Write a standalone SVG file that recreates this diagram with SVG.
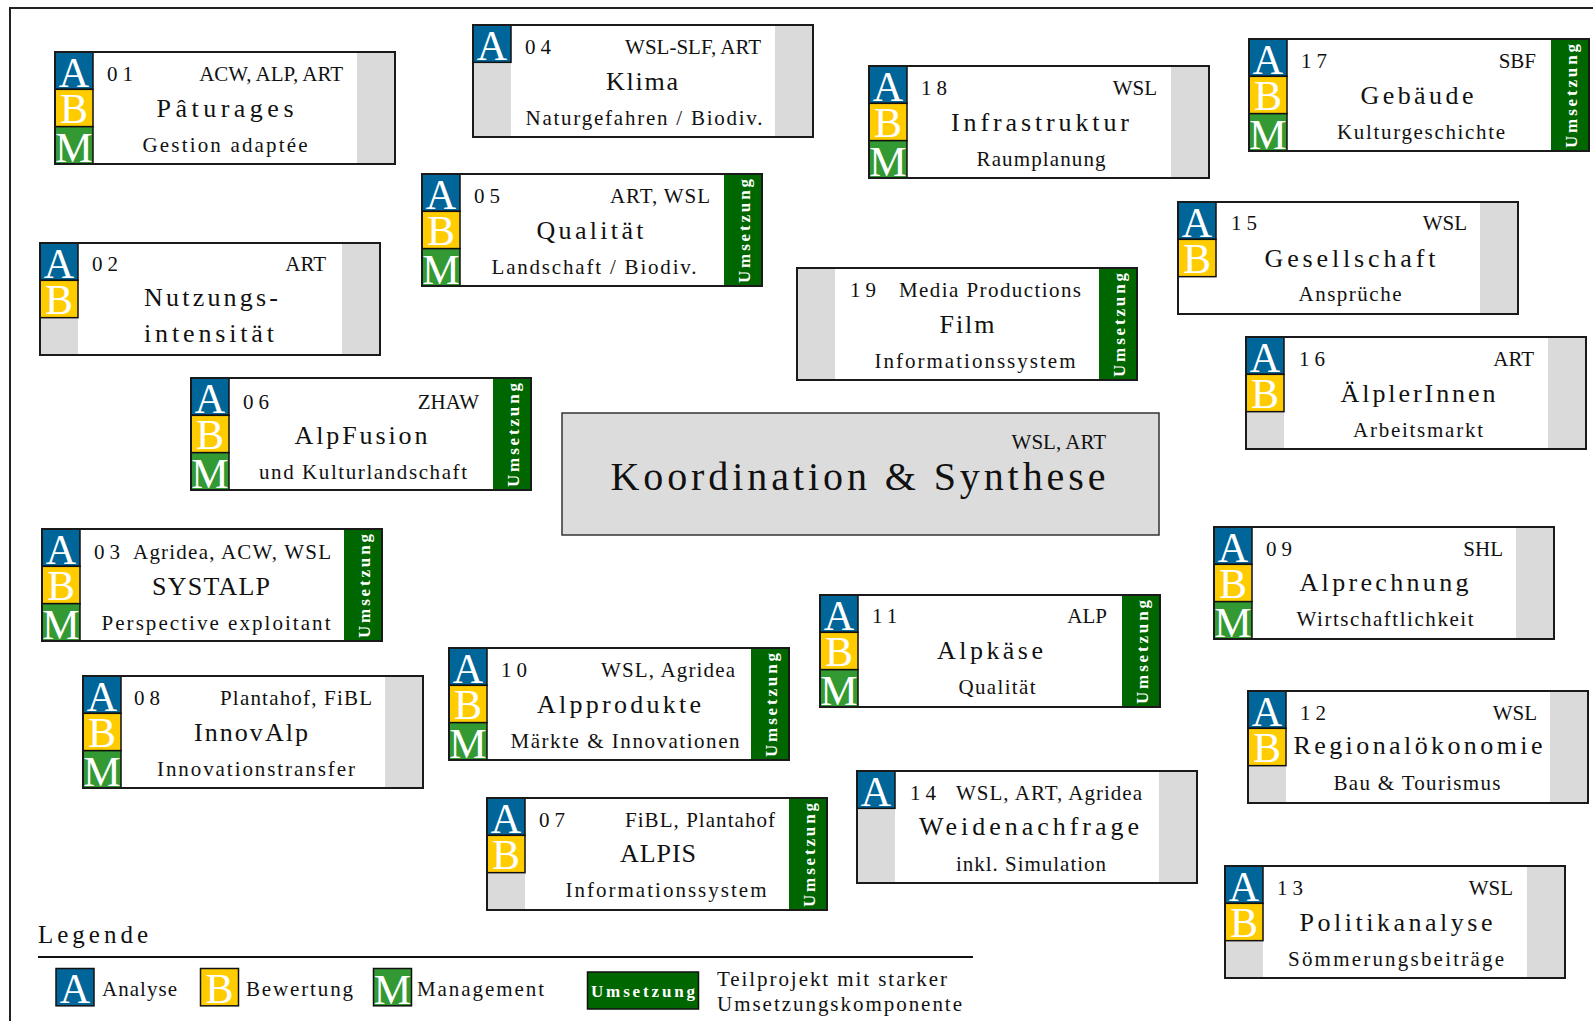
<svg xmlns="http://www.w3.org/2000/svg" xmlns:xlink="http://www.w3.org/1999/xlink" width="1593" height="1021" viewBox="0 0 1593 1021">
<style>
text{font-family:"Liberation Serif","Times New Roman",serif;fill:#111}
.wb{fill:#fff}
.ol{fill:none;stroke:#1a1a1a;stroke-width:2}
.lt{font-size:42px;fill:#fff;text-anchor:middle}
.num{font-size:21px;letter-spacing:5px}
.org{font-size:21px;text-anchor:end}
.lft{font-size:21px}
.ttl{font-size:26px;text-anchor:middle}
.sub{font-size:21px;text-anchor:middle}
.ut{font-size:17px;font-weight:bold;fill:#fff;text-anchor:middle}
.leg{font-size:21px}
</style>
<defs>
<g id="LA"><rect width="38" height="37.33" fill="#00669a" stroke="#111" stroke-width="1.5"/><text class="lt" x="19" y="34.5">A</text></g>
<g id="LB"><rect width="38" height="37.33" fill="#ffcc00" stroke="#111" stroke-width="1.5"/><text class="lt" x="19" y="34">B</text></g>
<g id="LM"><rect width="38" height="37.33" fill="#339933" stroke="#111" stroke-width="1.5"/><text class="lt" x="19" y="35.5">M</text></g>
<rect id="GR" width="38" height="112" fill="#dadada"/>
<g id="UM"><rect width="38" height="112" fill="#006600"/><text class="ut" transform="translate(19,57) rotate(-90)" y="7" textLength="104" lengthAdjust="spacing">Umsetzung</text></g>
</defs>

<path d="M10,1021 V8 H1593" fill="none" stroke="#222" stroke-width="2"/>

<g id="connectors"></g>

<g id="n01" transform="translate(55,52)">
<rect class="wb" width="340" height="112"/><use xlink:href="#GR" x="302"/>
<use xlink:href="#LA"/><use xlink:href="#LB" y="37.33"/><use xlink:href="#LM" y="74.67"/>
<rect class="ol" width="340" height="112"/>
<text class="num" x="52" y="29">01</text>
<text class="org" x="288" y="29">ACW, ALP, ART</text>
<text class="ttl" x="170" y="65" textLength="137" lengthAdjust="spacing">Pâturages</text>
<text class="sub" x="170" y="100" textLength="165" lengthAdjust="spacing">Gestion adaptée</text>
</g>

<g id="n04" transform="translate(473,25)">
<rect class="wb" width="340" height="112"/><use xlink:href="#GR"/><use xlink:href="#GR" x="302"/>
<use xlink:href="#LA"/>
<rect class="ol" width="340" height="112"/>
<text class="num" x="52" y="29">04</text>
<text class="org" x="288" y="29">WSL-SLF, ART</text>
<text class="ttl" x="169" y="65" textLength="72" lengthAdjust="spacing">Klima</text>
<text class="sub" x="171" y="100" textLength="237" lengthAdjust="spacing">Naturgefahren / Biodiv.</text>
</g>

<g id="n05" transform="translate(422,174)">
<rect class="wb" width="340" height="112"/><use xlink:href="#UM" x="302"/>
<use xlink:href="#LA"/><use xlink:href="#LB" y="37.33"/><use xlink:href="#LM" y="74.67"/>
<rect class="ol" width="340" height="112"/>
<text class="num" x="52" y="29">05</text>
<text class="org" x="288" y="29" textLength="100" lengthAdjust="spacing">ART, WSL</text>
<text class="ttl" x="168" y="65" textLength="107" lengthAdjust="spacing">Qualität</text>
<text class="sub" x="172" y="100" textLength="205" lengthAdjust="spacing">Landschaft / Biodiv.</text>
</g>

<g id="n18" transform="translate(869,66)">
<rect class="wb" width="340" height="112"/><use xlink:href="#GR" x="302"/>
<use xlink:href="#LA"/><use xlink:href="#LB" y="37.33"/><use xlink:href="#LM" y="74.67"/>
<rect class="ol" width="340" height="112"/>
<text class="num" x="52" y="29">18</text>
<text class="org" x="288" y="29">WSL</text>
<text class="ttl" x="171" y="65" textLength="178" lengthAdjust="spacing">Infrastruktur</text>
<text class="sub" x="172" y="100" textLength="129" lengthAdjust="spacing">Raumplanung</text>
</g>

<g id="n17" transform="translate(1249,39)">
<rect class="wb" width="340" height="112"/><use xlink:href="#UM" x="302"/>
<use xlink:href="#LA"/><use xlink:href="#LB" y="37.33"/><use xlink:href="#LM" y="74.67"/>
<rect class="ol" width="340" height="112"/>
<text class="num" x="52" y="29">17</text>
<text class="org" x="287" y="29">SBF</text>
<text class="ttl" x="168" y="65" textLength="113" lengthAdjust="spacing">Gebäude</text>
<text class="sub" x="172" y="100" textLength="168" lengthAdjust="spacing">Kulturgeschichte</text>
</g>

<g id="n02" transform="translate(40,243)">
<rect class="wb" width="340" height="112"/><use xlink:href="#GR"/><use xlink:href="#GR" x="302"/>
<use xlink:href="#LA"/><use xlink:href="#LB" y="37.33"/>
<rect class="ol" width="340" height="112"/>
<text class="num" x="52" y="28">02</text>
<text class="org" x="286" y="28">ART</text>
<text class="ttl" x="171" y="63" textLength="134" lengthAdjust="spacing">Nutzungs-</text>
<text class="ttl" x="169" y="99" textLength="130" lengthAdjust="spacing">intensität</text>
</g>

<g id="n19" transform="translate(797,268)">
<rect class="wb" width="340" height="112"/><use xlink:href="#GR"/><use xlink:href="#UM" x="302"/>
<rect class="ol" width="340" height="112"/>
<text class="num" x="53" y="29">19</text>
<text class="lft" x="102" y="29" textLength="182" lengthAdjust="spacing">Media Productions</text>
<text class="ttl" x="170" y="65" textLength="55" lengthAdjust="spacing">Film</text>
<text class="sub" x="178" y="100" textLength="201" lengthAdjust="spacing">Informationssystem</text>
</g>

<g id="n15" transform="translate(1178,202)">
<rect class="wb" width="340" height="112"/><use xlink:href="#GR" x="302"/>
<use xlink:href="#LA"/><use xlink:href="#LB" y="37.33"/>
<rect class="ol" width="340" height="112"/>
<text class="num" x="53" y="28">15</text>
<text class="org" x="289" y="28">WSL</text>
<text class="ttl" x="172" y="65" textLength="171" lengthAdjust="spacing">Gesellschaft</text>
<text class="sub" x="172" y="99" textLength="103" lengthAdjust="spacing">Ansprüche</text>
</g>

<g id="n16" transform="translate(1246,337)">
<rect class="wb" width="340" height="112"/><use xlink:href="#GR"/><use xlink:href="#GR" x="302"/>
<use xlink:href="#LA"/><use xlink:href="#LB" y="37.33"/>
<rect class="ol" width="340" height="112"/>
<text class="num" x="53" y="29">16</text>
<text class="org" x="288" y="29">ART</text>
<text class="ttl" x="172" y="65" textLength="155" lengthAdjust="spacing">ÄlplerInnen</text>
<text class="sub" x="172" y="100" textLength="130" lengthAdjust="spacing">Arbeitsmarkt</text>
</g>

<g id="n06" transform="translate(191,378)">
<rect class="wb" width="340" height="112"/><use xlink:href="#UM" x="302"/>
<use xlink:href="#LA"/><use xlink:href="#LB" y="37.33"/><use xlink:href="#LM" y="74.67"/>
<rect class="ol" width="340" height="112"/>
<text class="num" x="52" y="31">06</text>
<text class="org" x="288" y="31">ZHAW</text>
<text class="ttl" x="170" y="66" textLength="133" lengthAdjust="spacing">AlpFusion</text>
<text class="sub" x="172" y="101" textLength="208" lengthAdjust="spacing">und Kulturlandschaft</text>
</g>

<rect x="562" y="413" width="597" height="122" fill="#dcdcdc" stroke="#333" stroke-width="1.5"/>
<g id="n00">
<text class="org" x="1106" y="449">WSL, ART</text>
<text x="858" y="490" font-size="40" text-anchor="middle" textLength="495" lengthAdjust="spacing">Koordination &amp; Synthese</text>
</g>

<g id="n03" transform="translate(42,529)">
<rect class="wb" width="340" height="112"/><use xlink:href="#UM" x="302"/>
<use xlink:href="#LA"/><use xlink:href="#LB" y="37.33"/><use xlink:href="#LM" y="74.67"/>
<rect class="ol" width="340" height="112"/>
<text class="num" x="52" y="30">03</text>
<text class="lft" x="91" y="30" textLength="198" lengthAdjust="spacing">Agridea, ACW, WSL</text>
<text class="ttl" x="169" y="66" textLength="118" lengthAdjust="spacing">SYSTALP</text>
<text class="sub" x="174" y="101" textLength="229" lengthAdjust="spacing">Perspective exploitant</text>
</g>

<g id="n09" transform="translate(1214,527)">
<rect class="wb" width="340" height="112"/><use xlink:href="#GR" x="302"/>
<use xlink:href="#LA"/><use xlink:href="#LB" y="37.33"/><use xlink:href="#LM" y="74.67"/>
<rect class="ol" width="340" height="112"/>
<text class="num" x="52" y="29">09</text>
<text class="org" x="289" y="29">SHL</text>
<text class="ttl" x="170" y="64" textLength="169" lengthAdjust="spacing">Alprechnung</text>
<text class="sub" x="171" y="99" textLength="177" lengthAdjust="spacing">Wirtschaftlichkeit</text>
</g>

<g id="n11" transform="translate(820,595)">
<rect class="wb" width="340" height="112"/><use xlink:href="#UM" x="302"/>
<use xlink:href="#LA"/><use xlink:href="#LB" y="37.33"/><use xlink:href="#LM" y="74.67"/>
<rect class="ol" width="340" height="112"/>
<text class="num" x="52" y="28">11</text>
<text class="org" x="287" y="28">ALP</text>
<text class="ttl" x="170" y="64" textLength="106" lengthAdjust="spacing">Alpkäse</text>
<text class="sub" x="177" y="99" textLength="77" lengthAdjust="spacing">Qualität</text>
</g>

<g id="n10" transform="translate(449,648)">
<rect class="wb" width="340" height="112"/><use xlink:href="#UM" x="302"/>
<use xlink:href="#LA"/><use xlink:href="#LB" y="37.33"/><use xlink:href="#LM" y="74.67"/>
<rect class="ol" width="340" height="112"/>
<text class="num" x="52" y="29">10</text>
<text class="org" x="286" y="29" textLength="134" lengthAdjust="spacing">WSL, Agridea</text>
<text class="ttl" x="170" y="65" textLength="164" lengthAdjust="spacing">Alpprodukte</text>
<text class="sub" x="176" y="100" textLength="229" lengthAdjust="spacing">Märkte &amp; Innovationen</text>
</g>

<g id="n08" transform="translate(83,676)">
<rect class="wb" width="340" height="112"/><use xlink:href="#GR" x="302"/>
<use xlink:href="#LA"/><use xlink:href="#LB" y="37.33"/><use xlink:href="#LM" y="74.67"/>
<rect class="ol" width="340" height="112"/>
<text class="num" x="51" y="29">08</text>
<text class="org" x="289" y="29" textLength="152" lengthAdjust="spacing">Plantahof, FiBL</text>
<text class="ttl" x="168" y="65" textLength="114" lengthAdjust="spacing">InnovAlp</text>
<text class="sub" x="173" y="100" textLength="198" lengthAdjust="spacing">Innovationstransfer</text>
</g>

<g id="n12" transform="translate(1248,691)">
<rect class="wb" width="340" height="112"/><use xlink:href="#GR"/><use xlink:href="#GR" x="302"/>
<use xlink:href="#LA"/><use xlink:href="#LB" y="37.33"/>
<rect class="ol" width="340" height="112"/>
<text class="num" x="52" y="29">12</text>
<text class="org" x="289" y="29">WSL</text>
<text class="ttl" x="170" y="63" textLength="249" lengthAdjust="spacing">Regionalökonomie</text>
<text class="sub" x="169" y="99" textLength="167" lengthAdjust="spacing">Bau &amp; Tourismus</text>
</g>

<g id="n14" transform="translate(857,771)">
<rect class="wb" width="340" height="112"/><use xlink:href="#GR"/><use xlink:href="#GR" x="302"/>
<use xlink:href="#LA"/>
<rect class="ol" width="340" height="112"/>
<text class="num" x="53" y="29">14</text>
<text class="lft" x="99" y="29" textLength="186" lengthAdjust="spacing">WSL, ART, Agridea</text>
<text class="ttl" x="172" y="64" textLength="220" lengthAdjust="spacing">Weidenachfrage</text>
<text class="sub" x="174" y="100" textLength="150" lengthAdjust="spacing">inkl. Simulation</text>
</g>

<g id="n07" transform="translate(487,798)">
<rect class="wb" width="340" height="112"/><use xlink:href="#GR"/><use xlink:href="#UM" x="302"/>
<use xlink:href="#LA"/><use xlink:href="#LB" y="37.33"/>
<rect class="ol" width="340" height="112"/>
<text class="num" x="52" y="29">07</text>
<text class="org" x="288" y="29" textLength="150" lengthAdjust="spacing">FiBL, Plantahof</text>
<text class="ttl" x="171" y="64" textLength="76" lengthAdjust="spacing">ALPIS</text>
<text class="sub" x="179" y="99" textLength="201" lengthAdjust="spacing">Informationssystem</text>
</g>

<g id="n13" transform="translate(1225,866)">
<rect class="wb" width="340" height="112"/><use xlink:href="#GR"/><use xlink:href="#GR" x="302"/>
<use xlink:href="#LA"/><use xlink:href="#LB" y="37.33"/>
<rect class="ol" width="340" height="112"/>
<text class="num" x="52" y="29">13</text>
<text class="org" x="288" y="29">WSL</text>
<text class="ttl" x="171" y="65" textLength="193" lengthAdjust="spacing">Politikanalyse</text>
<text class="sub" x="171" y="100" textLength="216" lengthAdjust="spacing">Sömmerungsbeiträge</text>
</g>

<g id="legend">
<text x="38" y="943" font-size="25" textLength="110" lengthAdjust="spacing">Legende</text>
<line x1="38" y1="957" x2="973" y2="957" stroke="#111" stroke-width="2"/>
<use xlink:href="#LA" x="56" y="968.5"/>
<text class="leg" x="102" y="996" textLength="75" lengthAdjust="spacing">Analyse</text>
<use xlink:href="#LB" x="200.5" y="968.5"/>
<text class="leg" x="246" y="996" textLength="107" lengthAdjust="spacing">Bewertung</text>
<use xlink:href="#LM" x="373.5" y="968.5"/>
<text class="leg" x="417" y="996" textLength="127" lengthAdjust="spacing">Management</text>
<rect x="587.5" y="972" width="111" height="37" fill="#006600" stroke="#111" stroke-width="1.5"/>
<text class="ut" x="643" y="997" textLength="104" lengthAdjust="spacing">Umsetzung</text>
<text class="leg" x="717" y="986" textLength="230" lengthAdjust="spacing">Teilprojekt mit starker</text>
<text class="leg" x="717" y="1011" textLength="245" lengthAdjust="spacing">Umsetzungskomponente</text>
</g>
</svg>
